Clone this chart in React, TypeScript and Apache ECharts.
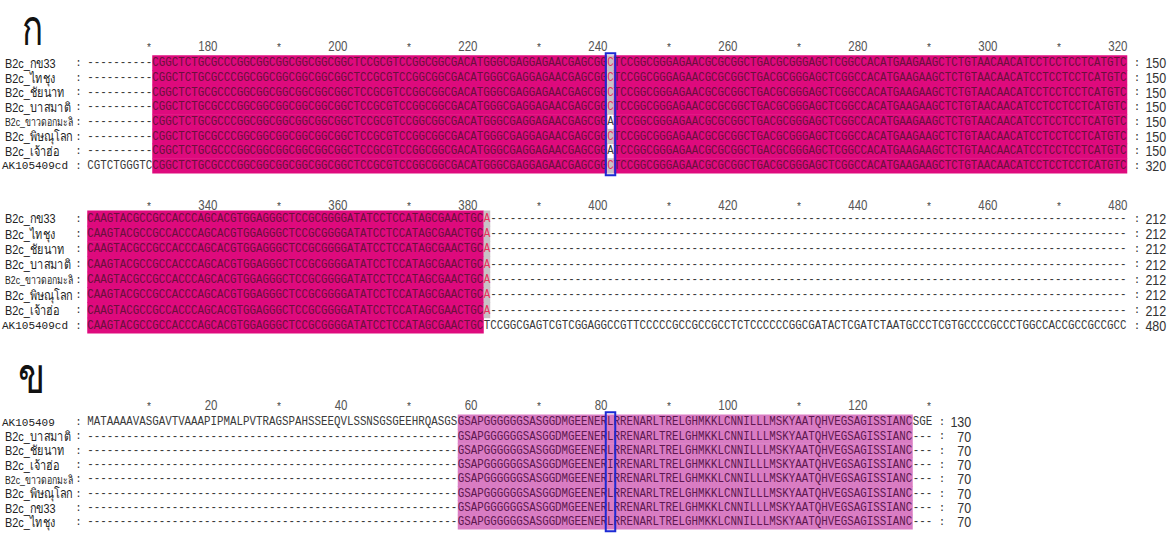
import React, { useEffect, useRef } from "react";
import * as echarts from "echarts";

// ---------------- DATA ----------------
const panelTitles = ["ก", "ข"];

const nucNames = [
  "B2c_กข33",
  "B2c_ไทชุง",
  "B2c_ชัยนาท",
  "B2c_บาสมาติ",
  "B2c_ขาวดอกมะลิ",
  "B2c_พิษณุโลก",
  "B2c_เจ้าฮ่อ",
  "AK105409cd",
];

const nucBlock1Start = 161;
const nucBlock1 = [
  "----------CGGCTCTGCGCCCGGCGGCGGCGGCGGCGGCTCCGCGTCCGGCGGCGACATGGGCGAGGAGAACGAGCGGCTCCGGCGGGAGAACGCGCGGCTGACGCGGGAGCTCGGCCACATGAAGAAGCTCTGTAACAACATCCTCCTCCTCATGTC",
  "----------CGGCTCTGCGCCCGGCGGCGGCGGCGGCGGCTCCGCGTCCGGCGGCGACATGGGCGAGGAGAACGAGCGGCTCCGGCGGGAGAACGCGCGGCTGACGCGGGAGCTCGGCCACATGAAGAAGCTCTGTAACAACATCCTCCTCCTCATGTC",
  "----------CGGCTCTGCGCCCGGCGGCGGCGGCGGCGGCTCCGCGTCCGGCGGCGACATGGGCGAGGAGAACGAGCGGCTCCGGCGGGAGAACGCGCGGCTGACGCGGGAGCTCGGCCACATGAAGAAGCTCTGTAACAACATCCTCCTCCTCATGTC",
  "----------CGGCTCTGCGCCCGGCGGCGGCGGCGGCGGCTCCGCGTCCGGCGGCGACATGGGCGAGGAGAACGAGCGGCTCCGGCGGGAGAACGCGCGGCTGACGCGGGAGCTCGGCCACATGAAGAAGCTCTGTAACAACATCCTCCTCCTCATGTC",
  "----------CGGCTCTGCGCCCGGCGGCGGCGGCGGCGGCTCCGCGTCCGGCGGCGACATGGGCGAGGAGAACGAGCGGATCCGGCGGGAGAACGCGCGGCTGACGCGGGAGCTCGGCCACATGAAGAAGCTCTGTAACAACATCCTCCTCCTCATGTC",
  "----------CGGCTCTGCGCCCGGCGGCGGCGGCGGCGGCTCCGCGTCCGGCGGCGACATGGGCGAGGAGAACGAGCGGCTCCGGCGGGAGAACGCGCGGCTGACGCGGGAGCTCGGCCACATGAAGAAGCTCTGTAACAACATCCTCCTCCTCATGTC",
  "----------CGGCTCTGCGCCCGGCGGCGGCGGCGGCGGCTCCGCGTCCGGCGGCGACATGGGCGAGGAGAACGAGCGGATCCGGCGGGAGAACGCGCGGCTGACGCGGGAGCTCGGCCACATGAAGAAGCTCTGTAACAACATCCTCCTCCTCATGTC",
  "CGTCTGGGTCCGGCTCTGCGCCCGGCGGCGGCGGCGGCGGCTCCGCGTCCGGCGGCGACATGGGCGAGGAGAACGAGCGGCTCCGGCGGGAGAACGCGCGGCTGACGCGGGAGCTCGGCCACATGAAGAAGCTCTGTAACAACATCCTCCTCCTCATGTC",
];
const nucBlock1Ends = [150, 150, 150, 150, 150, 150, 150, 320];

const nucBlock2Start = 321;
const nucBlock2 = [
  "CAAGTACGCCGCCACCCAGCACGTGGAGGGCTCCGCGGGGATATCCTCCATAGCGAACTGCA" + "----------" + "----------" + "----------" + "----------" + "----------" + "----------" + "----------" + "----------" + "----------" + "--------",
  "CAAGTACGCCGCCACCCAGCACGTGGAGGGCTCCGCGGGGATATCCTCCATAGCGAACTGCA" + "----------" + "----------" + "----------" + "----------" + "----------" + "----------" + "----------" + "----------" + "----------" + "--------",
  "CAAGTACGCCGCCACCCAGCACGTGGAGGGCTCCGCGGGGATATCCTCCATAGCGAACTGCA" + "----------" + "----------" + "----------" + "----------" + "----------" + "----------" + "----------" + "----------" + "----------" + "--------",
  "CAAGTACGCCGCCACCCAGCACGTGGAGGGCTCCGCGGGGATATCCTCCATAGCGAACTGCA" + "----------" + "----------" + "----------" + "----------" + "----------" + "----------" + "----------" + "----------" + "----------" + "--------",
  "CAAGTACGCCGCCACCCAGCACGTGGAGGGCTCCGCGGGGATATCCTCCATAGCGAACTGCA" + "----------" + "----------" + "----------" + "----------" + "----------" + "----------" + "----------" + "----------" + "----------" + "--------",
  "CAAGTACGCCGCCACCCAGCACGTGGAGGGCTCCGCGGGGATATCCTCCATAGCGAACTGCA" + "----------" + "----------" + "----------" + "----------" + "----------" + "----------" + "----------" + "----------" + "----------" + "--------",
  "CAAGTACGCCGCCACCCAGCACGTGGAGGGCTCCGCGGGGATATCCTCCATAGCGAACTGCA" + "----------" + "----------" + "----------" + "----------" + "----------" + "----------" + "----------" + "----------" + "----------" + "--------",
  "CAAGTACGCCGCCACCCAGCACGTGGAGGGCTCCGCGGGGATATCCTCCATAGCGAACTGCTCCGGCGAGTCGTCGGAGGCCGTTCCCCCGCCGCCGCCTCTCCCCCCGGCGATACTCGATCTAATGCCCTCGTGCCCCGCCCTGGCCACCGCCGCCGCC",
];
const nucBlock2Ends = [212, 212, 212, 212, 212, 212, 212, 480];

const protNames = [
  "AK105409",
  "B2c_บาสมาติ",
  "B2c_ชัยนาท",
  "B2c_เจ้าฮ่อ",
  "B2c_ขาวดอกมะลิ",
  "B2c_พิษณุโลก",
  "B2c_กข33",
  "B2c_ไทชุง",
];
const protStart = 1;
const protSeqs = [
  "MATAAAAVASGAVTVAAAPIPMALPVTRAGSPAHSSEEQVLSSNSGSGEEHRQASGS" + "GSAPGGGGGGSASGGDMGEENERLRRENARLTRELGHMKKLCNNILLLMSKYAATQHVEGSAGISSIANC" + "SGE",
  "----------" + "----------" + "----------" + "----------" + "----------" + "-------" + "GSAPGGGGGGSASGGDMGEENERLRRENARLTRELGHMKKLCNNILLLMSKYAATQHVEGSAGISSIANC" + "---",
  "----------" + "----------" + "----------" + "----------" + "----------" + "-------" + "GSAPGGGGGGSASGGDMGEENERLRRENARLTRELGHMKKLCNNILLLMSKYAATQHVEGSAGISSIANC" + "---",
  "----------" + "----------" + "----------" + "----------" + "----------" + "-------" + "GSAPGGGGGGSASGGDMGEENERIRRENARLTRELGHMKKLCNNILLLMSKYAATQHVEGSAGISSIANC" + "---",
  "----------" + "----------" + "----------" + "----------" + "----------" + "-------" + "GSAPGGGGGGSASGGDMGEENERIRRENARLTRELGHMKKLCNNILLLMSKYAATQHVEGSAGISSIANC" + "---",
  "----------" + "----------" + "----------" + "----------" + "----------" + "-------" + "GSAPGGGGGGSASGGDMGEENERLRRENARLTRELGHMKKLCNNILLLMSKYAATQHVEGSAGISSIANC" + "---",
  "----------" + "----------" + "----------" + "----------" + "----------" + "-------" + "GSAPGGGGGGSASGGDMGEENERLRRENARLTRELGHMKKLCNNILLLMSKYAATQHVEGSAGISSIANC" + "---",
  "----------" + "----------" + "----------" + "----------" + "----------" + "-------" + "GSAPGGGGGGSASGGDMGEENERLRRENARLTRELGHMKKLCNNILLLMSKYAATQHVEGSAGISSIANC" + "---",
];
const protEnds = [130, 70, 70, 70, 70, 70, 70, 70];

const nucBoxedPosition = 241;
const protBoxedPosition = 81;
const proteinSimilarGroup = "ILVM";

// ---------------- BLOCKS / LAYOUT ----------------
type Block = {
  names: string[];
  seqs: string[];
  start: number;
  ends: number[];
  protein: boolean;
  box: number | null;
};

const blocks: Block[] = [
  { names: nucNames, seqs: nucBlock1, start: nucBlock1Start, ends: nucBlock1Ends, protein: false, box: nucBoxedPosition },
  { names: nucNames, seqs: nucBlock2, start: nucBlock2Start, ends: nucBlock2Ends, protein: false, box: null },
  { names: protNames, seqs: protSeqs, start: protStart, ends: protEnds, protein: true, box: protBoxedPosition },
];

const LAYOUT = [
  { rulerY: 47, rowY: 63, step: 14.7 },
  { rulerY: 206, rowY: 218.5, step: 15.3 },
  { rulerY: 406, rowY: 422, step: 14.3 },
];

const W = 1169;
const H = 540;
const COL_PX = 6.5;
const FIRST_COL_PX = 90.5;
const X_MIN = 1 - FIRST_COL_PX / COL_PX;
const X_MAX = X_MIN + W / COL_PX;

const MAGENTA = "#de0a7d";
const MAG_TEXT = "#6a103c";
const PINK = "#d97cc3";
const PINK_TEXT = "#5e1850";
const GREY = "#c8c2c6";
const RED = "#e8305c";
const PLAIN = "#3a3a3a";

const SEQ_FONT = "'Liberation Mono', 'DejaVu Sans Mono', monospace";
const SEQ_SIZE = COL_PX / 0.6;
const SEQ_STRETCH = 1.15;
const LABEL_FONT = "'Liberation Sans', 'Noto Sans', 'DejaVu Sans', sans-serif";

type ColShade = { kind: "full" | "partial" | "none"; major: string };

function columnShading(b: Block): ColShade[] {
  const n = b.seqs.length;
  const len = Math.max(...b.seqs.map((s) => s.length));
  const out: ColShade[] = [];
  for (let i = 0; i < len; i++) {
    const chars = b.seqs.map((s) => s[i] || "-").filter((c) => c !== "-");
    const counts: Record<string, number> = {};
    chars.forEach((c) => (counts[c] = (counts[c] || 0) + 1));
    let major = "";
    let mc = 0;
    Object.keys(counts).forEach((k) => {
      if (counts[k] > mc) {
        mc = counts[k];
        major = k;
      }
    });
    if (chars.length === n) {
      const allSame = chars.every((c) => c === chars[0]);
      const similar = b.protein && chars.every((c) => proteinSimilarGroup.includes(c));
      if (allSame || similar) {
        out.push({ kind: "full", major });
        continue;
      }
    }
    if (mc / n >= 0.6) out.push({ kind: "partial", major });
    else out.push({ kind: "none", major });
  }
  return out;
}

const shadings = blocks.map(columnShading);

function cellStyle(bi: number, r: number, i: number) {
  const b = blocks[bi];
  const ch = b.seqs[r][i];
  const sh = shadings[bi][i];
  if (ch !== "-" && sh.kind === "full") {
    return b.protein ? { bg: PINK, fg: PINK_TEXT } : { bg: MAGENTA, fg: MAG_TEXT };
  }
  if (ch !== "-" && sh.kind === "partial" && ch === sh.major) {
    return { bg: GREY, fg: RED };
  }
  return { bg: "", fg: PLAIN };
}

function labelStyle(name: string) {
  if (name.startsWith("AK")) return { size: 11, scaleX: 1, font: SEQ_FONT, x: 2 };
  if (name.length > 13) return { size: 11.5, scaleX: 0.76, font: LABEL_FONT, x: 5 };
  return { size: 13, scaleX: 0.84, font: LABEL_FONT, x: 5 };
}

function renderItem(params: any, api: any) {
  const bi = api.value(0);
  const r = api.value(1);
  const b = blocks[bi];
  const lay = LAYOUT[bi];
  const px = (c: number) => api.coord([c, 0])[0];
  const py = (y: number) => api.coord([X_MIN, y])[1];
  const n = b.seqs.length;
  const len = b.seqs[0].length;
  const children: any[] = [];

  if (r === -3) {
    for (let row = 0; row < n; row++) {
      const yc = lay.rowY + row * lay.step;
      const top = py(yc - lay.step / 2);
      const bot = py(yc + lay.step / 2);
      let i = 0;
      while (i < len) {
        const st = cellStyle(bi, row, i);
        let j = i + 1;
        while (j < len) {
          const s2 = cellStyle(bi, row, j);
          if (s2.bg !== st.bg) break;
          j++;
        }
        if (st.bg) {
          children.push({
            type: "rect",
            silent: true,
            shape: { x: px(i + 0.5), y: top - 0.3, width: px(j + 0.5) - px(i + 0.5), height: bot - top + 0.6 },
            style: { fill: st.bg },
          });
        }
        i = j;
      }
    }
  } else if (r === -1) {
    const y = py(lay.rulerY);
    for (let i = 0; i < len; i++) {
      const pos = b.start + i;
      if (pos % 10 !== 0) continue;
      if (pos % 20 === 0) {
        children.push({
          type: "text",
          silent: true,
          x: px(i + 1) + 3.5,
          y,
          scaleX: 0.92,
          scaleY: 1.1,
          style: { text: String(pos), fill: "#555", fontSize: 12.5, fontFamily: LABEL_FONT, align: "right", verticalAlign: "middle" },
        });
      } else {
        children.push({
          type: "text",
          silent: true,
          x: px(i + 1),
          y: y + 1,
          style: { text: "*", fill: "#444", fontSize: 10, fontFamily: SEQ_FONT, align: "center", verticalAlign: "middle" },
        });
      }
    }
  } else if (r === -2) {
    if (b.box !== null) {
      const c = b.box - b.start + 1;
      const x0 = px(c - 0.5) - 1.5;
      const x1 = px(c + 0.5) + 1.5;
      const y0 = py(lay.rowY - lay.step / 2) - 2.5;
      const y1 = py(lay.rowY + (n - 1) * lay.step + lay.step / 2) + 2;
      children.push({
        type: "rect",
        silent: true,
        shape: { x: x0, y: y0, width: x1 - x0, height: y1 - y0 },
        style: { fill: "none", stroke: "#1c2ad4", lineWidth: 2 },
      });
    }
  } else {
    const s = b.seqs[r];
    const y = py(lay.rowY + r * lay.step);
    const name = b.names[r];
    const ls = labelStyle(name);
    children.push({
      type: "text",
      silent: true,
      x: ls.x,
      y: y + 0.5,
      scaleX: ls.scaleX,
      style: {
        text: name,
        fill: "#222",
        fontSize: ls.size,
        fontFamily: ls.font,
        align: "left",
        verticalAlign: "middle",
      },
    });
    children.push({
      type: "text",
      silent: true,
      x: px(1) - 12,
      y,
      style: { text: ":", fill: "#333", fontSize: SEQ_SIZE, fontFamily: SEQ_FONT, align: "center", verticalAlign: "middle" },
    });
    let i = 0;
    while (i < s.length) {
      const st = cellStyle(bi, r, i);
      let j = i + 1;
      while (j < s.length) {
        const s2 = cellStyle(bi, r, j);
        if (s2.bg !== st.bg || s2.fg !== st.fg) break;
        j++;
      }
      children.push({
        type: "text",
        silent: true,
        x: px(i + 0.5),
        y,
        scaleY: SEQ_STRETCH,
        style: { text: s.slice(i, j), fill: st.fg, fontSize: SEQ_SIZE, fontFamily: SEQ_FONT, align: "left", verticalAlign: "middle" },
      });
      i = j;
    }
    children.push({
      type: "text",
      silent: true,
      x: px(len + 2),
      y,
      style: { text: ":", fill: "#333", fontSize: SEQ_SIZE, fontFamily: SEQ_FONT, align: "center", verticalAlign: "middle" },
    });
    children.push({
      type: "text",
      silent: true,
      x: px(len + 6.5),
      y: y + 0.5,
      scaleY: 1.1,
      style: { text: String(b.ends[r]), fill: "#333", fontSize: 12.5, fontFamily: LABEL_FONT, align: "right", verticalAlign: "middle" },
    });
  }
  return { type: "group", children };
}

function buildData() {
  const data: number[][] = [];
  blocks.forEach((b, bi) => {
    data.push([bi, -3]);
    data.push([bi, -1]);
    b.seqs.forEach((_, r) => data.push([bi, r]));
  });
  blocks.forEach((_, bi) => data.push([bi, -2]));
  return data;
}

export default function App() {
  const ref = useRef<HTMLDivElement>(null);
  useEffect(() => {
    if (!ref.current) return;
    const chart = echarts.init(ref.current, null, { renderer: "svg" });
    chart.setOption({
      animation: false,
      backgroundColor: "#ffffff",
      grid: { left: 0, right: 0, top: 0, bottom: 0 },
      xAxis: { type: "value", min: X_MIN, max: X_MAX, show: false },
      yAxis: { type: "value", min: 0, max: H, inverse: true, show: false },
      graphic: [
        {
          type: "text",
          x: 22,
          y: 28,
          scaleX: 0.7,
          silent: true,
          style: { text: panelTitles[0], fontSize: 50, lineHeight: 44, fill: "#111", fontFamily: LABEL_FONT, align: "left", verticalAlign: "middle" },
        },
        {
          type: "text",
          x: 18,
          y: 376,
          scaleX: 0.8,
          silent: true,
          style: { text: panelTitles[1], fontSize: 50, lineHeight: 44, fill: "#111", fontFamily: LABEL_FONT, align: "left", verticalAlign: "middle" },
        },
      ],
      series: [
        {
          type: "custom",
          coordinateSystem: "cartesian2d",
          renderItem,
          clip: false,
          silent: true,
          data: buildData(),
        },
      ],
    });
    return () => chart.dispose();
  }, []);
  return (
    <div
      ref={ref}
      style={{ position: "absolute", left: 0, top: 0, width: W, height: H }}
    />
  );
}
